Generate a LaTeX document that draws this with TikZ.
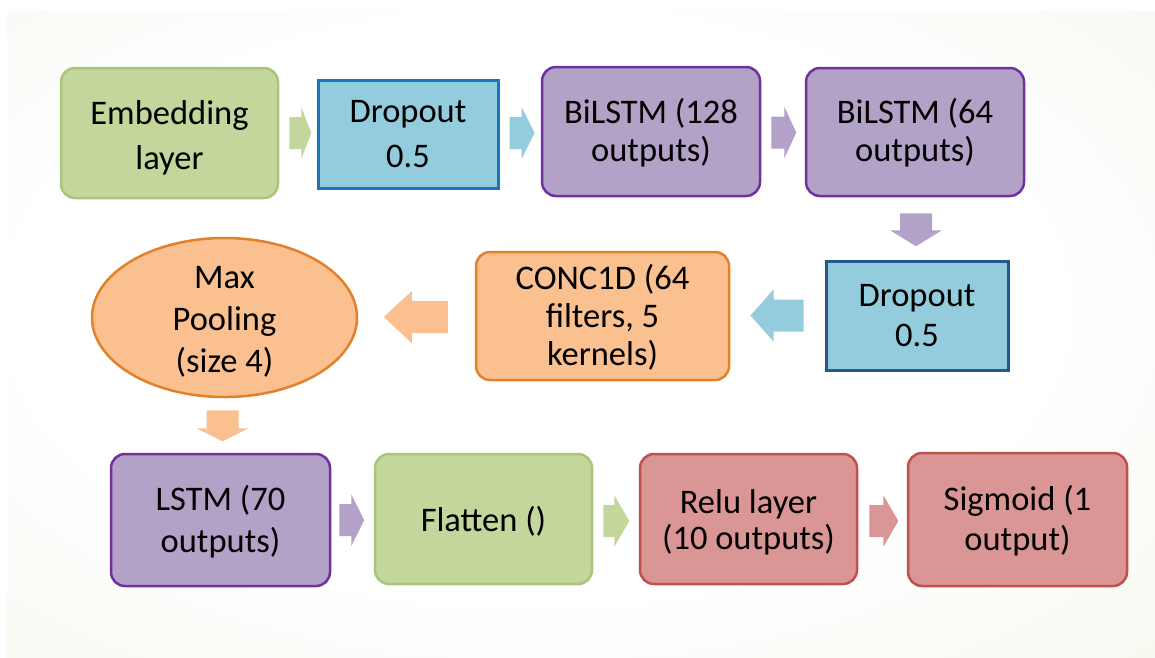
\documentclass[tikz,border=0pt]{standalone}
\usepackage{fontspec}
\setmainfont{Carlito}
\usetikzlibrary{shapes.geometric,calc}

\definecolor{bgedge}{HTML}{E8EED6}
\definecolor{greenF}{HTML}{C3D69B}
\definecolor{greenD}{HTML}{A9C47F}
\definecolor{blueF}{HTML}{93CDDD}
\definecolor{blueD}{HTML}{1B75BC}
\definecolor{blueDD}{HTML}{215A8C}
\definecolor{purpleF}{HTML}{B3A2C7}
\definecolor{purpleD}{HTML}{7030A0}
\definecolor{orangeF}{HTML}{FAC090}
\definecolor{orangeD}{HTML}{E3802A}
\definecolor{redF}{HTML}{D99694}
\definecolor{redD}{HTML}{C0504D}

% soft glow behind the flow chart
\pgfdeclareradialshading{bgglow}{\pgfpoint{-3bp}{3bp}}{%
  color(0bp)=(white); color(22bp)=(white); color(48bp)=(white!45!bgedge); color(72bp)=(bgedge)}

\tikzset{
  layer/.style={rectangle, rounded corners=14pt, line width=2.5pt, inner sep=0pt},
  greenbox/.style={layer, fill=greenF, draw=greenD},
  bluebox/.style={layer, rounded corners=0pt, line width=3pt, fill=blueF, draw=blueD},
  purplebox/.style={layer, fill=purpleF, draw=purpleD},
  orangebox/.style={layer, fill=orangeF, draw=orangeD},
  redbox/.style={layer, fill=redF, draw=redD},
  % label set inside a box; #1 = line pitch
  caption/.style={align=center, inner sep=0pt, text=black, font=\fontsize{34.5}{#1}\selectfont},
  caption/.default=40,
  % block arrow: origin at the base of the head, #1 = shaft length, #2 = head length
  pics/blockarrow/.style args={#1/#2}{code={%
    \fill[pic actions] (-#1,-16) -- (0,-16) -- (0,-26) -- (#2,0) -- (0,26) -- (0,16) -- (-#1,16) -- cycle;}},
}

\begin{document}
\begin{tikzpicture}[x=1pt,y=-1pt]
\useasboundingbox (0,0) rectangle (1155,657);
\fill[white] (0,0) rectangle (1155,657);
\shade[shading=bgglow] (7,11) rectangle (1155,657);

% first row
\node[greenbox, minimum width=217pt, minimum height=130pt] (emb) at (169.5,133) {};
\node[purplebox, minimum width=218pt, minimum height=129pt] (bil1) at (651,131.5) {};
\node[bluebox, minimum width=180pt, minimum height=108pt] (drop1) at (408,134) {};
\node[purplebox, minimum width=218pt, minimum height=128pt] (bil2) at (915,132) {};

% second row
\node[bluebox, draw=blueDD, minimum width=182pt, minimum height=109pt] (drop2) at (917,315.5) {};
\node[orangebox, minimum width=253pt, minimum height=128pt] (conc) at (602.5,316) {};
\node[ellipse, fill=orangeF, draw=orangeD, line width=2.5pt, inner sep=0pt,
  minimum width=265pt, minimum height=159pt] (pool) at (224.5,317.5) {};

% third row
\node[purplebox, minimum width=219pt, minimum height=132pt] (lstm) at (220.5,520) {};
\node[greenbox, minimum width=217pt, minimum height=130pt] (flat) at (483.5,519) {};
\node[redbox, minimum width=217pt, minimum height=130pt] (relu) at (748.5,519) {};
\node[redbox, minimum width=219pt, minimum height=133pt] (sig) at (1017.5,519.5) {};

% captions
\node[caption=45] (emb-t)   at ($(emb)+(0,5)$)   {Embedding\\layer};
\node[caption=45] (drop1-t) at ($(drop1)+(0,0)$) {Dropout\\0.5};
\node[caption=38] (bil1-t)  at ($(bil1)+(0,1)$)  {BiLSTM (128\\outputs)};
\node[caption=38] (bil2-t)  at ($(bil2)+(0,1)$)  {BiLSTM (64\\outputs)};
\node[caption]    (drop2-t) at ($(drop2)+(0,0)$) {Dropout\\0.5};
\node[caption=38] (conc-t)  at ($(conc)+(0,1)$)  {CONC1D (64\\filters, 5\\kernels)};
\node[caption=42] (pool-t)  at ($(pool)+(0,4)$)  {Max\\Pooling\\(size 4)};
\node[caption=42] (lstm-t)  at ($(lstm)+(0,2)$)  {LSTM (70\\outputs)};
\node[caption]    (flat-t)  at ($(flat)+(0,2)$)  {Flatten ()};
\node[caption=36] (relu-t)  at ($(relu)+(0,3)$)  {Relu layer\\(10 outputs)};
\node[caption]    (sig-t)   at ($(sig)+(0,1)$)   {Sigmoid (1\\output)};

% block arrows between the layers
\pic[fill=greenF] at ($(emb.east)+(22,0)$) {blockarrow=12/10};
\pic[fill=blueF] at ($(drop1.east)+(22,-1)$) {blockarrow=12/13};
\pic[fill=purpleF] at ($(bil1.east)+(23,1)$) {blockarrow=13/12};
\pic[fill=purpleF, rotate=-90] at ($(bil2.south)+(1,33)$) {blockarrow=17/16};
\pic[fill=blueF, rotate=180] at ($(drop2.west)+(-51,0)$) {blockarrow=30/23};
\pic[fill=orangeF, rotate=180] at ($(conc.west)+(-63,1)$) {blockarrow=36/28};
\pic[fill=orangeF, rotate=-90] at ($(pool.south)+(-2,30)$) {blockarrow=18/13};
\pic[fill=purpleF] at ($(lstm.east)+(20,0)$) {blockarrow=12/13};
\pic[fill=greenF] at ($(flat.east)+(21,2)$) {blockarrow=11/15};
\pic[fill=redF] at ($(relu.east)+(25,2)$) {blockarrow=14/15};
\end{tikzpicture}
\end{document}
